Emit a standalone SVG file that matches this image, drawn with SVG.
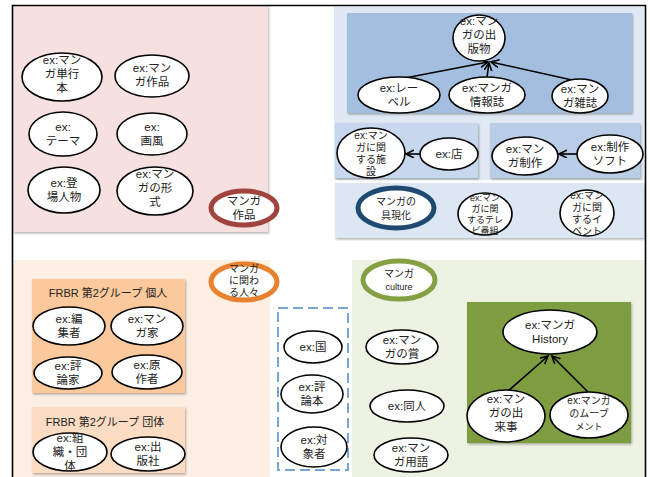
<svg xmlns="http://www.w3.org/2000/svg" width="650" height="477" viewBox="0 0 650 477">
  <defs>
    <style>
      text { font-family: "Liberation Sans", "Noto Sans CJK JP", sans-serif; font-size: 11.5px; fill: #222; text-anchor: middle; }
      .sm { font-size: 10px; }
      .xs { font-size: 9px; }
      .title { font-size: 11px; fill: #222; }
      .node { fill: #fff; stroke: #000; stroke-width: 1.6; }
      .hub { fill: #fff; stroke-width: 5; }
      .edge { stroke: #000; stroke-width: 1.6; fill: none; marker-end: url(#arrow); }
      .panel { filter: url(#shadow); }
    </style>
    <marker id="arrow" markerWidth="10" markerHeight="10" refX="8" refY="4" orient="auto" markerUnits="userSpaceOnUse">
      <path d="M0,0 L8,4 L0,8" fill="none" stroke="#000" stroke-width="1.6"/>
    </marker>
    <filter id="shadow" x="-5%" y="-5%" width="110%" height="115%">
      <feDropShadow dx="1" dy="1.5" stdDeviation="0.8" flood-color="#000" flood-opacity="0.3"/>
    </filter>
  </defs>

  <rect width="650" height="477" fill="#fff"/>

  <!-- background panels -->
  <g id="panels">
    <rect x="13" y="6" width="255" height="226" fill="#f6e0e0" class="panel"/>
    <rect x="334" y="7" width="310" height="173" fill="#dfe8f3"/>
    <rect x="347" y="13" width="285" height="100" fill="#a4bedf" class="panel"/>
    <rect x="335" y="123" width="143" height="55" fill="#c7d8ee" class="panel"/>
    <rect x="490" y="123" width="150" height="55" fill="#b9cde6" class="panel"/>
    <rect x="335" y="183" width="309" height="55" fill="#dde7f3" class="panel"/>
    <rect x="13" y="260" width="257" height="217" fill="#fdefe4"/>
    <rect x="32" y="279" width="153" height="114" fill="#fbc99b" class="panel"/>
    <rect x="32" y="407" width="153" height="66" fill="#fcdcc3" class="panel"/>
    <rect x="278" y="308" width="70" height="162" fill="none" stroke="#7ba3d4" stroke-width="2" stroke-dasharray="10,5"/>
    <rect x="352" y="260" width="293" height="217" fill="#eef2e3"/>
    <rect x="467" y="302" width="164" height="141" fill="#7d9d3f" class="panel"/>
  </g>

  <!-- frame -->
  <g id="frame" fill="none" stroke="#000" stroke-width="1.6">
    <path d="M12.5,477 V5.5 H645.5 V477"/>
  </g>

  <!-- connectors -->
  <g id="connectors">
    <line class="edge" x1="405" y1="78" x2="488" y2="62"/>
    <line class="edge" x1="487" y1="77" x2="489" y2="63"/>
    <line class="edge" x1="572" y1="80" x2="491" y2="62"/>
    <line class="edge" x1="420" y1="154" x2="406" y2="154"/>
    <line class="edge" x1="577" y1="154" x2="559" y2="154"/>
    <line class="edge" x1="507" y1="392" x2="548" y2="356"/>
    <line class="edge" x1="588" y1="392" x2="552" y2="356"/>
  </g>

  <!-- manga works -->
  <g id="manga-tankobon">
    <ellipse class="node" cx="62" cy="77" rx="40" ry="24"/>
    <text x="62" y="64">ex:マン<tspan x="62" dy="14">ガ単行</tspan><tspan x="62" dy="14">本</tspan></text>
  </g>
  <g id="manga-sakuhin">
    <ellipse class="node" cx="152" cy="76" rx="37" ry="21"/>
    <text x="152" y="72">ex:マン<tspan x="152" dy="14">ガ作品</tspan></text>
  </g>
  <g id="theme">
    <ellipse class="node" cx="63" cy="134" rx="34" ry="22"/>
    <text x="63" y="131">ex:<tspan x="63" dy="14">テーマ</tspan></text>
  </g>
  <g id="gafu">
    <ellipse class="node" cx="152" cy="134" rx="35" ry="21"/>
    <text x="152" y="131">ex:<tspan x="152" dy="14">画風</tspan></text>
  </g>
  <g id="characters">
    <ellipse class="node" cx="64" cy="190" rx="36" ry="23"/>
    <text x="64" y="187">ex:登<tspan x="64" dy="14">場人物</tspan></text>
  </g>
  <g id="manga-format">
    <ellipse class="node" cx="155" cy="191" rx="38" ry="24"/>
    <text x="155" y="178">ex:マン<tspan x="155" dy="14">ガの形</tspan><tspan x="155" dy="14">式</tspan></text>
  </g>
  <g id="hub-works">
    <ellipse class="hub" cx="244" cy="208" rx="33" ry="17" stroke="#a2443e"/>
    <text x="244" y="205">マンガ<tspan x="244" dy="14">作品</tspan></text>
  </g>

  <!-- publications -->
  <g id="publication">
    <ellipse class="node" cx="479" cy="38" rx="26" ry="23"/>
    <text x="479" y="25">ex:マン<tspan x="479" dy="14">ガの出</tspan><tspan x="479" dy="14">版物</tspan></text>
  </g>
  <g id="label">
    <ellipse class="node" cx="399" cy="95" rx="41" ry="18"/>
    <text x="399" y="92">ex:レー<tspan x="399" dy="14">ベル</tspan></text>
  </g>
  <g id="info-magazine">
    <ellipse class="node" cx="487" cy="95" rx="38" ry="18"/>
    <text x="487" y="92">ex:マンガ<tspan x="487" dy="14">情報誌</tspan></text>
  </g>
  <g id="manga-magazine">
    <ellipse class="node" cx="580" cy="96" rx="28" ry="17"/>
    <text x="580" y="93">ex:マン<tspan x="580" dy="14">ガ雑誌</tspan></text>
  </g>
  <g id="facility">
    <ellipse class="node" cx="371" cy="153" rx="34" ry="25"/>
    <text class="sm" x="371" y="139">ex:マン<tspan x="371" dy="12">ガに関</tspan><tspan x="371" dy="12">する施</tspan><tspan x="371" dy="12">設</tspan></text>
  </g>
  <g id="shop">
    <ellipse class="node" cx="449" cy="154" rx="29" ry="16"/>
    <text x="449" y="158">ex:店</text>
  </g>
  <g id="production">
    <ellipse class="node" cx="525" cy="156" rx="33" ry="19"/>
    <text x="525" y="153">ex:マン<tspan x="525" dy="14">ガ制作</tspan></text>
  </g>
  <g id="software">
    <ellipse class="node" cx="610" cy="154" rx="33" ry="19"/>
    <text x="610" y="151">ex:制作<tspan x="610" dy="14">ソフト</tspan></text>
  </g>
  <g id="hub-embodiment">
    <ellipse class="hub" cx="396" cy="208" rx="38" ry="20" stroke="#1e4a72"/>
    <text class="sm" x="396" y="205">マンガの<tspan x="396" dy="14">具現化</tspan></text>
  </g>
  <g id="tv-program">
    <ellipse class="node" cx="485" cy="214" rx="27" ry="21"/>
    <text class="xs" x="485" y="201">ex:マン<tspan x="485" dy="11">ガに関</tspan><tspan x="485" dy="11">するテレ</tspan><tspan x="485" dy="11">ビ番組</tspan></text>
  </g>
  <g id="event">
    <ellipse class="node" cx="587" cy="213" rx="27" ry="23"/>
    <text class="sm" x="587" y="199">ex:マン<tspan x="587" dy="12">ガに関</tspan><tspan x="587" dy="12">するイ</tspan><tspan x="587" dy="12">ベント</tspan></text>
  </g>

  <!-- people -->
  <g id="hub-people">
    <ellipse class="hub" cx="244" cy="282" rx="33" ry="18" stroke="#e8822e"/>
    <text class="sm" x="244" y="272">マンガ<tspan x="244" dy="12">に関わ</tspan><tspan x="244" dy="12">る人々</tspan></text>
  </g>
  <g id="group-person">
    <text class="title" x="108" y="297">FRBR 第2グループ 個人</text>
  </g>
  <g id="editor">
    <ellipse class="node" cx="69" cy="326" rx="36" ry="19"/>
    <text x="69" y="323">ex:編<tspan x="69" dy="14">集者</tspan></text>
  </g>
  <g id="mangaka">
    <ellipse class="node" cx="147" cy="326" rx="36" ry="19"/>
    <text x="147" y="323">ex:マン<tspan x="147" dy="14">ガ家</tspan></text>
  </g>
  <g id="critic">
    <ellipse class="node" cx="68" cy="373" rx="34" ry="16"/>
    <text x="68" y="370">ex:評<tspan x="68" dy="14">論家</tspan></text>
  </g>
  <g id="original-author">
    <ellipse class="node" cx="147" cy="372" rx="35" ry="17"/>
    <text x="147" y="369">ex:原<tspan x="147" dy="14">作者</tspan></text>
  </g>
  <g id="group-corporate">
    <text class="title" x="105" y="426">FRBR 第2グループ 団体</text>
  </g>
  <g id="organization">
    <ellipse class="node" cx="70" cy="452" rx="37" ry="19"/>
    <text x="70" y="442">ex:組<tspan x="70" dy="14">織・団</tspan><tspan x="70" dy="14">体</tspan></text>
  </g>
  <g id="publisher">
    <ellipse class="node" cx="148" cy="454" rx="37" ry="17"/>
    <text x="148" y="451">ex:出<tspan x="148" dy="14">版社</tspan></text>
  </g>
  <g id="country">
    <ellipse class="node" cx="313" cy="347" rx="29" ry="16"/>
    <text x="313" y="351">ex:国</text>
  </g>
  <g id="review-book">
    <ellipse class="node" cx="312" cy="394" rx="31" ry="19"/>
    <text x="312" y="391">ex:評<tspan x="312" dy="14">論本</tspan></text>
  </g>
  <g id="subject-person">
    <ellipse class="node" cx="314" cy="447" rx="33" ry="20"/>
    <text x="314" y="444">ex:対<tspan x="314" dy="14">象者</tspan></text>
  </g>

  <!-- culture -->
  <g id="hub-culture">
    <ellipse class="hub" cx="399" cy="280" rx="36" ry="19" stroke="#84a043"/>
    <text class="sm" x="399" y="277">マンガ<tspan class="xs" x="399" dy="13">culture</tspan></text>
  </g>
  <g id="award">
    <ellipse class="node" cx="402" cy="347" rx="36" ry="17"/>
    <text x="402" y="344">ex:マン<tspan x="402" dy="14">ガの賞</tspan></text>
  </g>
  <g id="doujin">
    <ellipse class="node" cx="407" cy="406" rx="37" ry="16"/>
    <text x="407" y="410">ex:同人</text>
  </g>
  <g id="terminology">
    <ellipse class="node" cx="411" cy="455" rx="37" ry="17"/>
    <text x="411" y="452">ex:マン<tspan x="411" dy="14">ガ用語</tspan></text>
  </g>
  <g id="history">
    <ellipse class="node" cx="550" cy="332" rx="47" ry="22"/>
    <text x="550" y="329">ex:マンガ<tspan x="550" dy="14">History</tspan></text>
  </g>
  <g id="incident">
    <ellipse class="node" cx="506" cy="416" rx="39" ry="26"/>
    <text x="506" y="403">ex:マン<tspan x="506" dy="14">ガの出</tspan><tspan x="506" dy="14">来事</tspan></text>
  </g>
  <g id="movement">
    <ellipse class="node" cx="589" cy="415" rx="39" ry="23"/>
    <text class="sm" x="589" y="404">ex:マンガ<tspan x="589" dy="13">のムーブ</tspan><tspan class="xs" x="589" dy="13">メント</tspan></text>
  </g>
</svg>
